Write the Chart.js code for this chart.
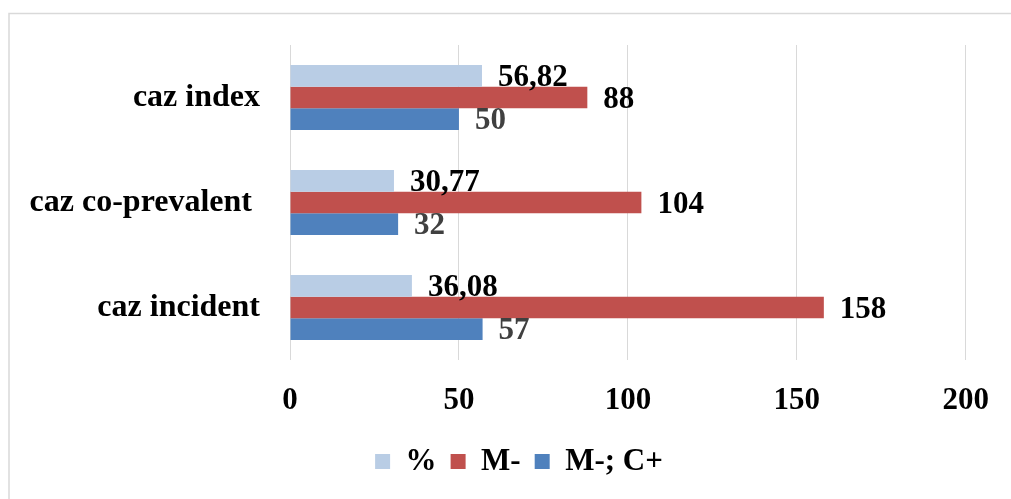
<!DOCTYPE html>
<html>
<head>
<meta charset="utf-8">
<script src="https://cdn.jsdelivr.net/npm/chart.js@4.4.1/dist/chart.umd.min.js"></script>
<style>
  html, body { margin: 0; padding: 0; background: #fff; }
  #wrap { width: 1011px; height: 499px; }
</style>
</head>
<body>
<div id="wrap"><canvas id="grafico" width="1011" height="499"></canvas></div>
<script>
// dados
var categorias = ["caz index", "caz co-prevalent ", "caz incident"];
var serie_pct = [56.82, 30.77, 36.08];
var serie_m = [88, 104, 158];
var serie_mc = [50, 32, 57];
var ticks_x = [0, 50, 100, 150, 200];

var fonte = "'Liberation Serif', 'Times New Roman', serif";

// moldura cinza em volta do grafico
var moldura = {
    id: "moldura",
    beforeDraw: (chart) => {
        var ctx = chart.ctx;
        ctx.save();
        ctx.strokeStyle = "#d9d9d9";
        ctx.lineWidth = 1.5;
        ctx.strokeRect(9, 13.5, 1100, 600);
        ctx.restore();
    }
};

// legenda um pouco deslocada para a direita, como no original
var desloca_legenda = {
    id: "desloca_legenda",
    afterLayout: (chart) => {
        if (chart.legend) {
            chart.legend.left += 35;
            chart.legend.right += 35;
        }
    }
};

// rotulos de valor ao lado das barras
var rotulos = {
    id: "rotulos",
    afterDatasetsDraw: (chart) => {
        var ctx = chart.ctx;
        ctx.save();
        ctx.font = "bold 31px " + fonte;
        ctx.textAlign = "left";
        ctx.textBaseline = "middle";
        chart.data.datasets.forEach((ds, i) => {
            var meta = chart.getDatasetMeta(i);
            ctx.fillStyle = ds.corRotulo;
            meta.data.forEach((bar, j) => {
                var txt = String(ds.data[j]).replace(".", ",");
                ctx.fillText(txt, bar.x + 16, bar.y + 2);
            });
        });
        ctx.restore();
    }
};

var grafico = new Chart(document.getElementById("grafico"), {
    type: "bar",
    data: {
        labels: categorias,
        datasets: [{
            label: "%",
            data: serie_pct,
            backgroundColor: "#B9CDE5",
            corRotulo: "#000000"
        }, {
            label: "M-",
            data: serie_m,
            backgroundColor: "#C0504D",
            corRotulo: "#000000"
        }, {
            label: "M-; C+",
            data: serie_mc,
            backgroundColor: "#4F81BD",
            corRotulo: "#404040"
        }]
    },
    options: {
        indexAxis: "y",
        responsive: false,
        animation: false,
        events: [],
        categoryPercentage: 0.62,
        barPercentage: 1,
        layout: {
            padding: { top: 45, left: 0, right: 43, bottom: 12 }
        },
        scales: {
            x: {
                min: 0,
                max: 200,
                afterBuildTicks: (scale) => {
                    scale.ticks = ticks_x.map((v) => ({ value: v }));
                },
                afterFit: (scale) => { scale.height = 72; },
                grid: { color: "#d9d9d9", lineWidth: 1, drawTicks: false },
                border: { display: false },
                ticks: {
                    padding: 22,
                    color: "#000",
                    font: { family: fonte, size: 31, weight: "bold" }
                }
            },
            y: {
                afterFit: (scale) => {
                    scale.width = 290;
                    scale.paddingTop = 0;
                    scale.paddingBottom = 0;
                },
                grid: { display: false, drawTicks: false },
                border: { display: false },
                ticks: {
                    padding: 30,
                    color: "#000",
                    font: { family: fonte, size: 32, weight: "bold" }
                }
            }
        },
        plugins: {
            tooltip: { enabled: false },
            legend: {
                position: "bottom",
                labels: {
                    boxWidth: 15,
                    boxHeight: 15,
                    padding: 14,
                    color: "#000",
                    font: { family: fonte, size: 31, weight: "bold" }
                }
            }
        }
    },
    plugins: [moldura, desloca_legenda, rotulos]
});
</script>
</body>
</html>
